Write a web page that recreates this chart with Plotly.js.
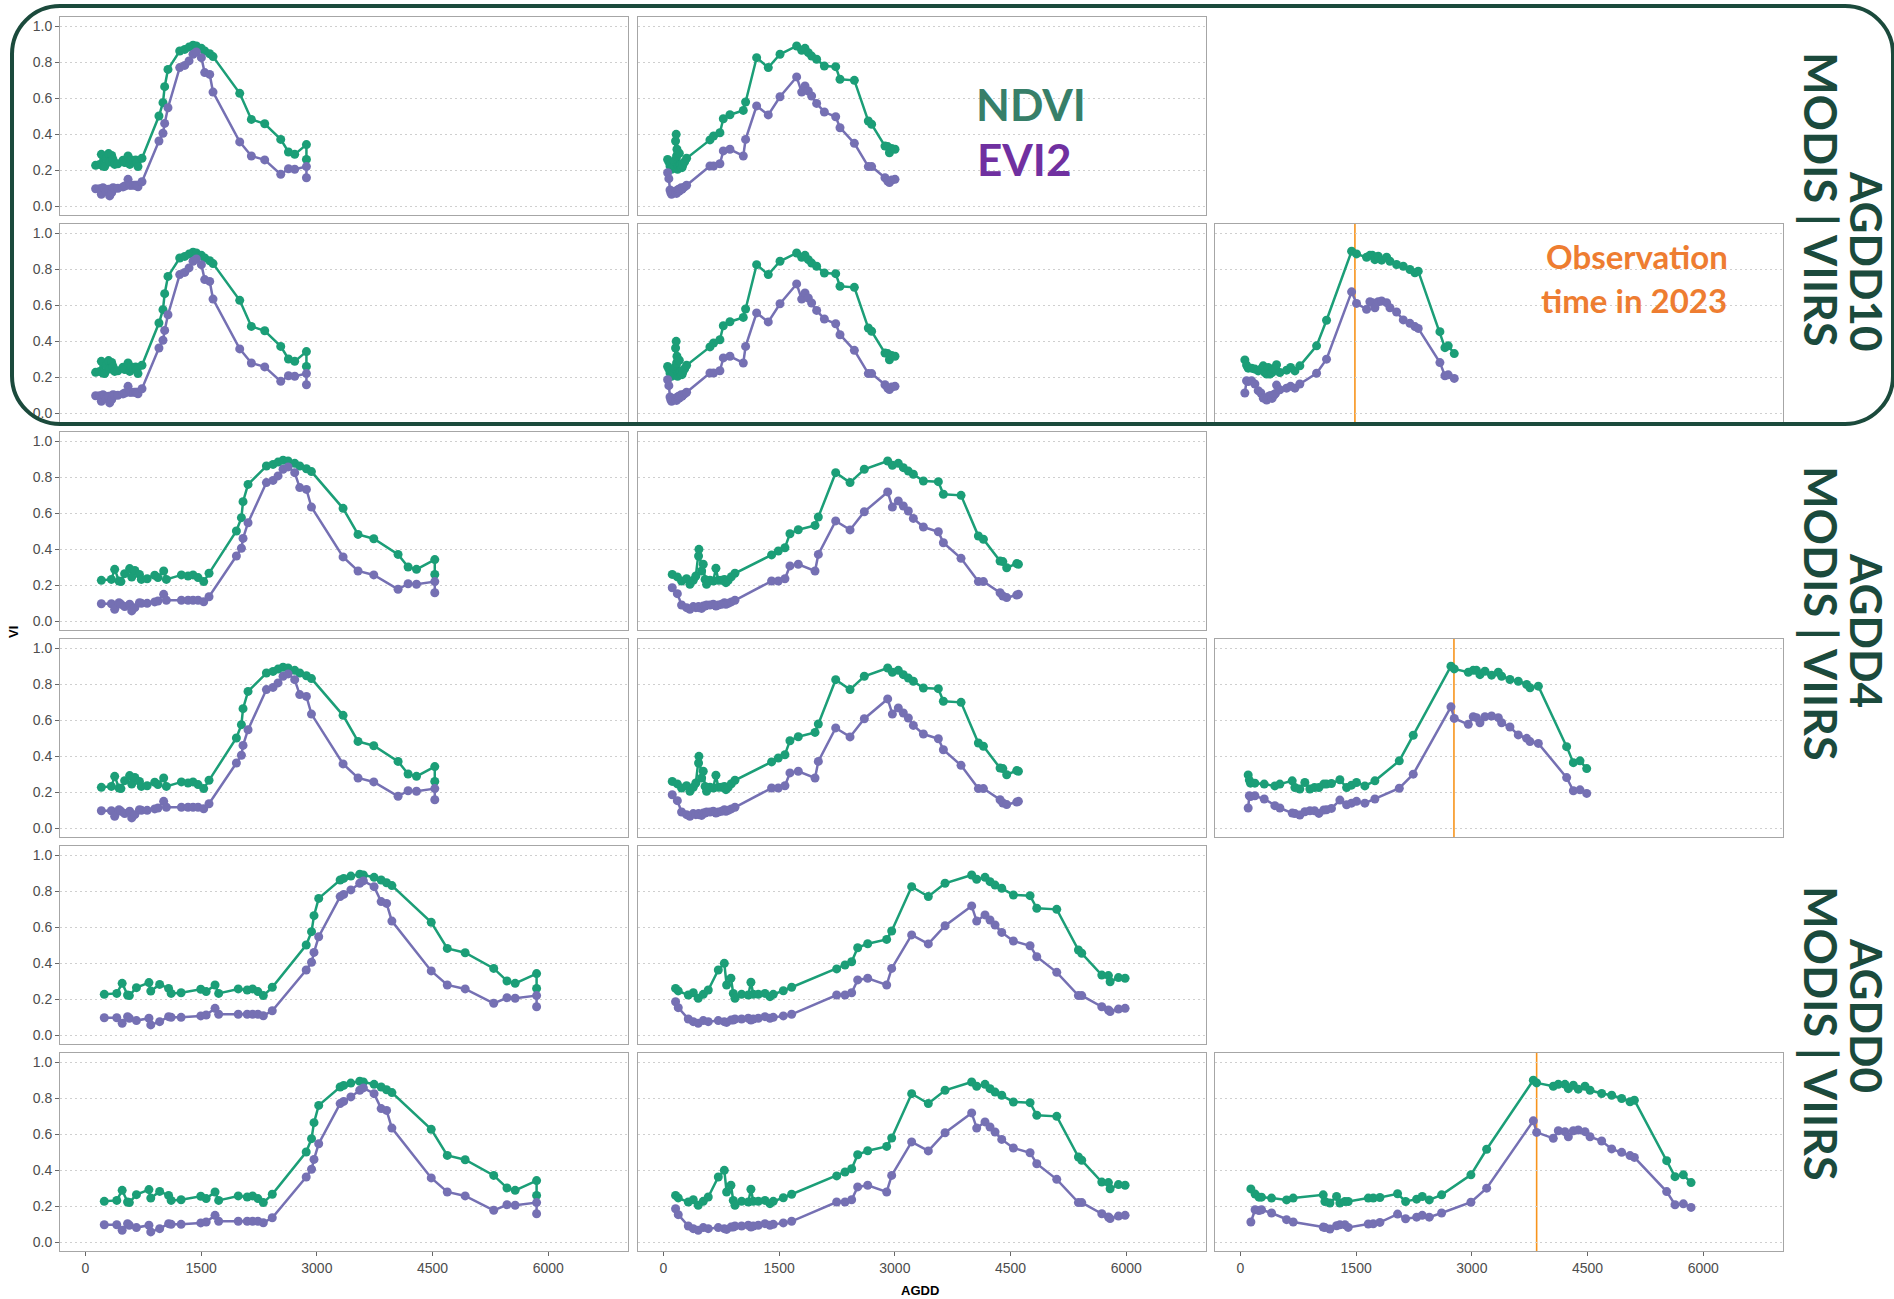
<!DOCTYPE html>
<html>
<head>
<meta charset="utf-8">
<script src="https://cdn.plot.ly/plotly-3.0.1.min.js"></script>
<style>
  html, body { margin: 0; padding: 0; background: #ffffff; }
  #chart { width: 1894px; height: 1299px; }
</style>
</head>
<body>
<div id="chart"></div>
<script>
// ---- Season 1 (left column) ----
const s1Ndvi = [0.226,0.231,0.287,0.222,0.219,0.263,0.291,0.244,0.281,0.259,0.231,0.235,0.254,0.241,0.278,0.231,0.256,0.25,0.256,0.241,0.219,0.265,0.5,0.574,0.663,0.759,0.861,0.87,0.883,0.893,0.889,0.876,0.861,0.846,0.83,0.626,0.481,0.457,0.37,0.3,0.287,0.341,0.259];
const s1Evi2 = [0.096,0.096,0.065,0.102,0.093,0.08,0.093,0.056,0.074,0.102,0.098,0.098,0.106,0.111,0.148,0.115,0.115,0.115,0.115,0.115,0.107,0.135,0.361,0.404,0.459,0.546,0.769,0.781,0.806,0.843,0.856,0.824,0.741,0.731,0.633,0.356,0.278,0.256,0.176,0.207,0.204,0.219,0.157];
const s1Agdd10 = [132,184,206,227,249,271,300,314,340,357,379,420,487,510,552,575,595,630,651,668,681,733,953,1005,1027,1070,1222,1287,1343,1395,1438,1503,1546,1611,1654,2000,2151,2324,2532,2632,2713,2865,2865];
const s1Agdd4 = [206,336,379,435,460,508,573,600,640,700,725,800,898,940,1014,1049,1244,1330,1395,1460,1533,1602,1957,2022,2043,2108,2346,2432,2497,2562,2627,2713,2778,2865,2930,3340,3534,3738,4053,4183,4292,4529,4529];
const s1Agdd0 = [244,406,476,546,569,661,823,847,962,1078,1111,1240,1495,1565,1680,1727,1981,2097,2167,2236,2306,2422,2862,2931,2963,3024,3302,3348,3441,3556,3603,3742,3834,3904,3973,4483,4691,4923,5293,5465,5571,5849,5849];

// ---- Season 2 (middle column) ----
const s2Ndvi = [0.259,0.245,0.222,0.235,0.204,0.226,0.25,0.361,0.398,0.278,0.315,0.231,0.204,0.226,0.222,0.293,0.226,0.226,0.231,0.213,0.226,0.246,0.265,0.367,0.389,0.407,0.485,0.507,0.531,0.578,0.824,0.769,0.843,0.889,0.865,0.876,0.852,0.833,0.815,0.778,0.774,0.704,0.698,0.472,0.454,0.333,0.33,0.296,0.319,0.315];
const s2Evi2 = [0.185,0.152,0.089,0.074,0.065,0.08,0.074,0.08,0.074,0.07,0.083,0.083,0.089,0.089,0.093,0.083,0.089,0.093,0.102,0.093,0.098,0.106,0.115,0.222,0.222,0.235,0.306,0.315,0.278,0.37,0.556,0.506,0.607,0.717,0.633,0.667,0.639,0.611,0.57,0.522,0.496,0.435,0.348,0.219,0.219,0.157,0.139,0.13,0.144,0.148];
const s2Agdd10 = [54,70,85,95,105,120,140,157,165,170,175,180,183,190,200,205,210,220,230,240,250,275,300,603,650,732,776,862,1035,1065,1208,1359,1511,1727,1792,1835,1878,1921,1986,2086,2233,2289,2475,2656,2699,2872,2907,2930,2959,3002];
const s2Agdd4 = [114,180,235,300,343,387,420,455,460,495,516,540,559,603,646,680,711,754,790,810,840,880,927,1402,1489,1575,1640,1748,1965,2008,2233,2419,2604,2907,2968,3045,3110,3175,3240,3370,3564,3629,3858,4083,4148,4364,4400,4450,4580,4602];
const s2Agdd0 = [157,192,322,387,451,516,581,711,789,819,875,905,927,1013,1100,1134,1165,1230,1316,1381,1424,1554,1662,2246,2354,2440,2518,2648,2894,2959,3218,3434,3651,3996,4061,4169,4234,4299,4386,4537,4753,4840,5099,5380,5423,5683,5769,5791,5899,5985];

// ---- Season 3 (right column, VIIRS only) ----
const s3Ndvi = [0.295,0.266,0.249,0.249,0.244,0.234,0.244,0.262,0.225,0.216,0.253,0.216,0.225,0.225,0.244,0.244,0.247,0.268,0.225,0.238,0.253,0.234,0.262,0.373,0.515,0.899,0.884,0.865,0.876,0.876,0.852,0.871,0.849,0.865,0.843,0.825,0.815,0.797,0.779,0.788,0.452,0.363,0.373,0.33];
const s3Evi2 = [0.111,0.179,0.175,0.179,0.161,0.124,0.111,0.083,0.08,0.072,0.09,0.096,0.096,0.081,0.1,0.101,0.109,0.155,0.129,0.138,0.148,0.138,0.161,0.221,0.299,0.673,0.609,0.576,0.618,0.613,0.585,0.618,0.622,0.613,0.585,0.561,0.517,0.498,0.48,0.47,0.28,0.207,0.212,0.192];
const s3Agdd10 = [57,79,100,144,187,230,265,295,316,340,360,381,395,410,425,440,455,468,511,598,650,706,770,987,1116,1441,1505,1635,1678,1710,1743,1786,1830,1895,1938,2024,2111,2197,2262,2305,2586,2651,2694,2772];
const s3Agdd4 = [100,115,130,187,308,446,511,671,706,770,835,900,960,1017,1080,1116,1180,1289,1376,1440,1505,1613,1743,2059,2240,2729,2772,2954,3018,3060,3105,3170,3256,3343,3386,3494,3602,3710,3754,3862,4229,4316,4402,4489];
const s3Agdd0 = [135,190,240,273,403,598,684,1073,1095,1160,1246,1289,1354,1397,1657,1722,1808,2037,2141,2284,2357,2448,2608,2988,3192,3797,3840,4056,4121,4207,4251,4316,4380,4467,4532,4683,4813,4942,5051,5107,5526,5634,5742,5842];

// AGDD reached on the 2023 observation date, per threshold (10, 4, 0)
const obsAgdd = [1484, 2768, 3840];

const thresholdLabels = ['AGDD10', 'AGDD4', 'AGDD0'];
const sensorLabel = 'MODIS | VIIRS';
const xTickVals = [0, 1500, 3000, 4500, 6000];
const yTickVals = [0, 0.2, 0.4, 0.6, 0.8, 1.0];
const legendNames = ['NDVI', 'EVI2'];
const noteLines = ['Observation', 'time in 2023'];

// ---- drawing ----
const W = 1894, H = 1299;
const colLeft = [60, 638, 1215], colW = 568;
const rowTop = [17, 224, 432, 639, 846, 1053], rowH = 198;
const NDVI_COL = '#1b9e77', EVI2_COL = '#7570b3';
const DARK = '#1b4a3c';

const seasons = [
  { ndvi: s1Ndvi, evi2: s1Evi2, agdd: [s1Agdd10, s1Agdd4, s1Agdd0], modis: true },
  { ndvi: s2Ndvi, evi2: s2Evi2, agdd: [s2Agdd10, s2Agdd4, s2Agdd0], modis: true },
  { ndvi: s3Ndvi, evi2: s3Evi2, agdd: [s3Agdd10, s3Agdd4, s3Agdd0], modis: false }
];

const px = x => x / W;
const py = y => 1 - y / H;

const data = [];
const layout = {
  width: W, height: H,
  margin: { l: 0, r: 0, t: 0, b: 0 },
  paper_bgcolor: '#ffffff', plot_bgcolor: '#ffffff',
  showlegend: false,
  font: { family: 'Liberation Sans, Arial, sans-serif', color: '#4d4d4d' },
  shapes: [], annotations: []
};

for (let r = 0; r < 6; r++) {
  const thr = Math.floor(r / 2);
  const isViirs = r % 2 === 1;
  for (let c = 0; c < 3; c++) {
    const k = r * 3 + c;
    const sfx = k === 0 ? '' : String(k + 1);
    const xId = 'x' + sfx, yId = 'y' + sfx;
    const bottom = r === 5, left = c === 0;
    layout['xaxis' + sfx] = {
      domain: [px(colLeft[c]), px(colLeft[c] + colW)],
      anchor: yId,
      range: [-330, 7034],
      showgrid: false, zeroline: false,
      showline: true, mirror: true, linecolor: '#a6a6a6', linewidth: 1,
      tickvals: xTickVals,
      ticks: bottom ? 'outside' : '', ticklen: 4, tickcolor: '#666666',
      showticklabels: bottom,
      tickfont: { size: 14, color: '#4d4d4d' }
    };
    layout['yaxis' + sfx] = {
      domain: [py(rowTop[r] + rowH), py(rowTop[r])],
      anchor: xId,
      range: [-0.05, 1.05],
      showgrid: true, gridcolor: '#cfcfcf', gridwidth: 1, griddash: '2px,3px',
      zeroline: false,
      showline: true, mirror: true, linecolor: '#a6a6a6', linewidth: 1,
      tickvals: yTickVals, tickformat: '.1f',
      ticks: left ? 'outside' : '', ticklen: 4, tickcolor: '#666666',
      showticklabels: left,
      tickfont: { size: 14, color: '#4d4d4d' }
    };

    const s = seasons[c];
    if (isViirs || s.modis) {
      const xs = s.agdd[thr];
      [[s.ndvi, NDVI_COL, legendNames[0]], [s.evi2, EVI2_COL, legendNames[1]]].forEach(([ys, col, nm]) => {
        data.push({
          type: 'scatter', mode: 'lines+markers', name: nm,
          x: xs, y: ys, xaxis: xId, yaxis: yId,
          line: { color: col, width: 2.5 },
          marker: { color: col, size: 9, line: { width: 0 } },
          hoverinfo: 'skip'
        });
      });
    }
    // observation date marker in the VIIRS panels of the last season
    if (c === 2 && isViirs) {
      layout.shapes.push({
        type: 'line', xref: xId, yref: 'paper',
        x0: obsAgdd[thr], x1: obsAgdd[thr],
        y0: py(rowTop[r] + rowH), y1: py(rowTop[r]),
        line: { color: '#f7941d', width: 1.6 }, layer: 'below'
      });
    }
  }
}

// rounded frame around the AGDD10 block
function roundedRect(x0, y0, x1, y1, r) {
  const k = 0.5523 * r;
  const P = (x, y) => px(x).toFixed(5) + ',' + py(y).toFixed(5);
  return 'M ' + P(x0 + r, y0) +
    ' L ' + P(x1 - r, y0) +
    ' C ' + P(x1 - r + k, y0) + ' ' + P(x1, y0 + r - k) + ' ' + P(x1, y0 + r) +
    ' L ' + P(x1, y1 - r) +
    ' C ' + P(x1, y1 - r + k) + ' ' + P(x1 - r + k, y1) + ' ' + P(x1 - r, y1) +
    ' L ' + P(x0 + r, y1) +
    ' C ' + P(x0 + r - k, y1) + ' ' + P(x0, y1 - r + k) + ' ' + P(x0, y1 - r) +
    ' L ' + P(x0, y0 + r) +
    ' C ' + P(x0, y0 + r - k) + ' ' + P(x0 + r - k, y0) + ' ' + P(x0 + r, y0) + ' Z';
}
layout.shapes.push({
  type: 'path', xref: 'paper', yref: 'paper',
  path: roundedRect(12, 6, 1893, 424, 48),
  line: { color: DARK, width: 4 }, fillcolor: 'rgba(0,0,0,0)', layer: 'above'
});

const ann = (x, y, text, font, extra) => Object.assign({
  xref: 'paper', yref: 'paper', x: px(x), y: py(y), text: text,
  showarrow: false, xanchor: 'center', yanchor: 'middle', font: font
}, extra || {});

const bigFont = (size, color) => ({ family: 'Lato, "Open Sans", sans-serif', size: size, color: color, weight: 'bold' });

// axis titles
layout.annotations.push(ann(920, 1290, '<b>AGDD</b>', { size: 13, color: '#000000' }));
layout.annotations.push(ann(14, 632, '<b>VI</b>', { size: 13, color: '#000000' }, { textangle: -90 }));

// in-plot key and note
layout.annotations.push(ann(1031, 104, legendNames[0], bigFont(44, '#377f69')));
layout.annotations.push(ann(1024, 159, legendNames[1], bigFont(44, '#7030a0')));
layout.annotations.push(ann(1637, 256, noteLines[0], bigFont(33, '#ee7d31')));
layout.annotations.push(ann(1634, 300, noteLines[1], bigFont(33, '#ee7d31')));

// row-pair labels on the right
const sensorY = [199, 613, 1033];
const thrY = [261, 630, 1015];
for (let i = 0; i < 3; i++) {
  layout.annotations.push(ann(1821, sensorY[i], sensorLabel, bigFont(45, DARK), { textangle: 90 }));
  layout.annotations.push(ann(1867, thrY[i], thresholdLabels[i], bigFont(44, DARK), { textangle: 90 }));
}

Plotly.newPlot('chart', data, layout, { staticPlot: true, displayModeBar: false });
</script>
</body>
</html>
